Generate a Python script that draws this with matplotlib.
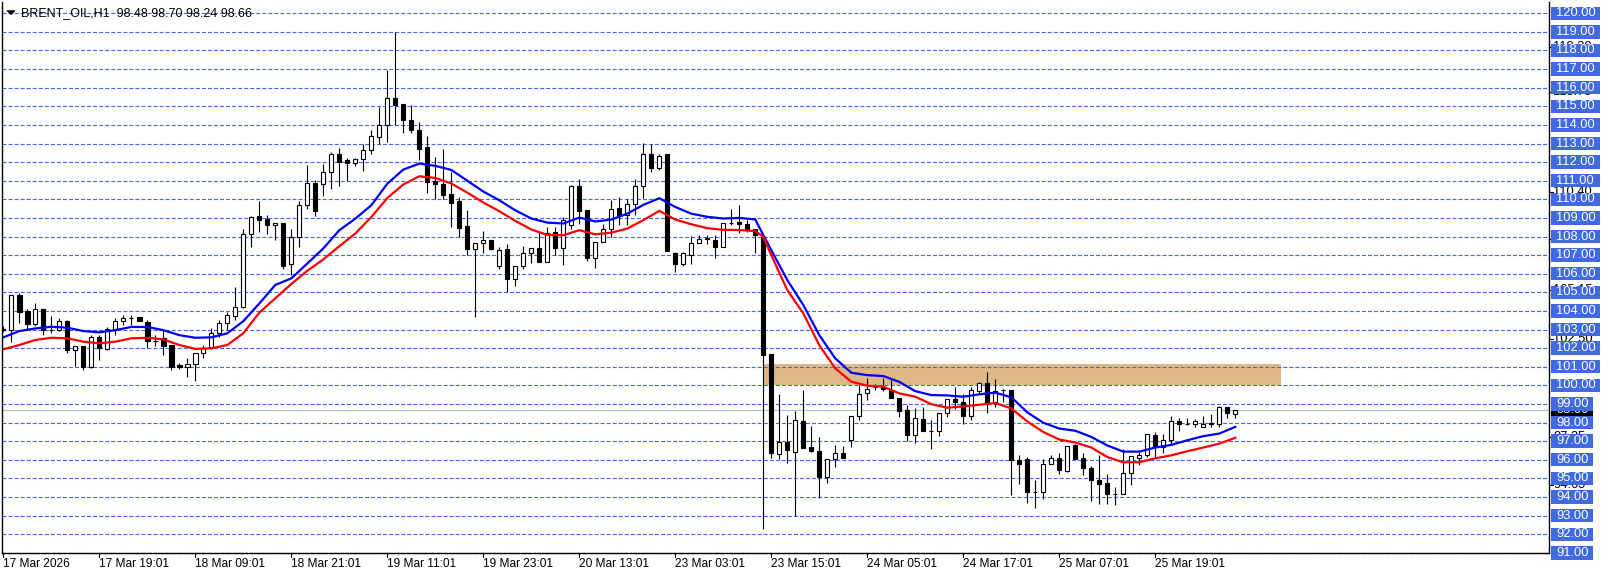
import matplotlib
matplotlib.use('Agg')
import matplotlib.pyplot as plt
import matplotlib.transforms as mtransforms
from matplotlib.patches import Rectangle, Polygon
from matplotlib.lines import Line2D
import numpy as np

plt.rcParams['font.family'] = ['Liberation Sans', 'DejaVu Sans']
plt.rcParams['lines.scale_dashes'] = False

# ---------------- data ----------------
symbol_title = "BRENT_OIL,H1  98.48 98.70 98.24 98.66"
opens = [103.05, 102.97, 104.85, 104.00, 103.30, 104.08, 102.95, 102.96, 103.46, 101.90,
         102.12, 100.97, 102.58, 101.96, 103.01, 103.46, 103.60, 103.65, 103.39, 102.39,
         102.53, 102.17, 101.10, 100.97, 101.13, 101.72, 102.08, 102.80, 103.33, 103.74,
         104.23, 108.16, 109.10, 108.93, 108.64, 108.71, 106.50, 108.00, 109.68, 110.89,
         110.80, 111.46, 112.45, 112.10, 111.93, 112.18, 112.66, 113.36, 114.00, 115.45,
         115.12, 114.27, 113.75, 112.79, 110.96, 110.84, 110.27, 109.90, 108.54, 107.34,
         107.66, 107.80, 106.44, 107.35, 105.73, 106.44, 107.09, 107.40, 106.64, 108.25,
         107.40, 108.60, 110.70, 109.45, 106.87, 107.71, 108.43, 109.56, 109.18, 109.77,
         110.72, 112.46, 111.70, 112.42, 107.09, 106.50, 107.03, 107.66, 107.90, 107.80,
         107.44, 108.75, 108.80, 108.70, 108.38, 107.99, 101.68, 96.30, 96.93, 96.43,
         98.08, 96.70, 96.47, 95.09, 96.02, 96.38, 97.09, 98.35, 99.57, 99.90,
         99.93, 99.75, 99.33, 98.67, 97.33, 98.19, 97.56, 97.56, 98.49, 99.26,
         99.12, 98.35, 99.72, 100.11, 99.12, 99.75, 99.75, 96.01, 96.06, 94.27,
         94.27, 95.80, 96.12, 95.40, 96.78, 96.12, 95.58, 94.90, 94.77, 94.14,
         94.14, 95.31, 96.12, 96.24, 97.32, 96.69, 97.05, 98.08, 97.92, 97.92,
         97.74, 97.95, 97.95, 98.82, 98.48]
highs = [103.20, 104.85, 104.98, 104.12, 104.44, 104.08, 103.73, 103.60, 103.50, 102.10,
         102.12, 102.70, 102.70, 103.15, 103.60, 103.80, 103.78, 103.67, 103.50, 102.70,
         103.00, 102.17, 101.19, 101.45, 101.72, 102.17, 103.06, 103.50, 103.96, 105.30,
         108.43, 109.09, 109.90, 109.18, 108.75, 108.71, 108.39, 109.90, 111.82, 111.05,
         111.90, 112.57, 112.77, 112.20, 112.21, 112.98, 113.70, 114.98, 116.95, 119.00,
         115.12, 115.07, 114.18, 113.43, 112.30, 112.71, 111.46, 110.13, 109.41, 107.66,
         108.29, 107.80, 107.44, 107.62, 106.44, 107.50, 107.40, 108.20, 108.52, 108.52,
         109.05, 110.78, 111.10, 109.45, 107.71, 108.70, 109.99, 110.13, 110.00, 111.08,
         113.03, 113.00, 112.46, 112.42, 107.18, 107.18, 108.02, 108.07, 108.07, 108.07,
         108.75, 109.47, 109.68, 108.91, 108.38, 107.99, 101.68, 99.51, 98.40, 98.62,
         99.75, 97.81, 97.20, 96.02, 96.79, 96.73, 98.35, 100.01, 100.37, 100.10,
         100.37, 100.28, 99.33, 98.97, 98.80, 98.85, 98.13, 98.49, 99.26, 99.89,
         99.53, 99.93, 100.20, 100.73, 100.33, 99.79, 99.75, 96.24, 96.15, 94.90,
         96.06, 96.24, 96.37, 96.73, 96.87, 96.37, 95.65, 96.24, 95.26, 94.54,
         96.60, 96.19, 96.42, 97.41, 97.50, 97.36, 98.35, 98.22, 98.22, 98.17,
         98.35, 98.46, 98.89, 98.82, 98.70]
lows = [102.88, 102.35, 103.37, 102.97, 103.19, 102.70, 102.80, 102.90, 101.72, 101.02,
        100.83, 100.92, 101.36, 101.90, 102.70, 103.24, 103.24, 103.44, 101.99, 102.12,
        101.63, 100.80, 100.86, 100.47, 100.26, 101.45, 101.96, 102.58, 103.00, 103.50,
        104.14, 107.45, 108.25, 108.16, 107.84, 106.23, 105.93, 107.45, 109.50, 109.10,
        110.20, 110.57, 110.70, 111.00, 111.79, 111.52, 112.41, 112.95, 113.07, 114.00,
        113.55, 113.55, 112.09, 110.36, 110.00, 110.00, 108.52, 108.00, 107.00, 103.70,
        107.10, 107.27, 106.23, 105.00, 105.35, 106.26, 106.60, 106.64, 106.64, 107.00,
        106.48, 108.40, 108.70, 106.70, 106.33, 107.71, 107.98, 108.60, 108.60, 109.18,
        110.08, 111.47, 111.56, 107.23, 106.10, 106.40, 106.55, 107.66, 107.62, 106.82,
        107.44, 108.60, 108.20, 108.25, 107.13, 92.27, 96.07, 96.02, 95.84, 92.97,
        96.61, 96.43, 93.92, 94.76, 95.60, 96.07, 96.70, 98.13, 99.21, 99.75,
        99.71, 99.33, 98.28, 97.02, 96.88, 97.56, 96.56, 97.27, 98.31, 98.71,
        97.95, 98.13, 99.57, 98.49, 98.85, 99.12, 94.09, 94.72, 93.67, 93.42,
        93.90, 95.76, 95.25, 95.35, 96.06, 95.17, 93.76, 93.64, 93.64, 93.55,
        94.14, 94.63, 95.70, 96.15, 96.15, 96.37, 96.87, 97.54, 97.88, 97.74,
        97.74, 97.77, 97.74, 98.22, 98.24]
closes = [102.98, 104.85, 103.92, 103.30, 104.10, 102.96, 102.96, 103.46, 101.90, 102.10,
          100.97, 102.58, 101.99, 103.01, 103.46, 103.64, 103.62, 103.46, 102.39, 102.40,
          102.13, 101.00, 100.97, 101.13, 101.72, 101.99, 102.80, 103.33, 103.78, 104.19,
          108.16, 109.05, 108.88, 108.64, 108.75, 106.43, 108.00, 109.68, 110.89, 109.38,
          111.46, 112.45, 112.00, 111.93, 112.18, 112.66, 113.39, 114.00, 115.45, 115.07,
          114.27, 113.73, 112.71, 110.93, 110.84, 110.21, 109.80, 108.46, 107.34, 107.66,
          107.79, 107.32, 107.30, 105.73, 106.44, 107.09, 107.40, 106.64, 108.20, 107.40,
          108.91, 110.70, 109.38, 106.87, 107.71, 108.43, 109.50, 109.18, 109.77, 110.72,
          112.46, 111.70, 112.35, 107.23, 106.50, 107.09, 107.66, 107.86, 107.89, 107.44,
          108.75, 108.73, 108.70, 108.43, 108.07, 101.63, 96.34, 96.93, 96.52, 98.13,
          96.61, 96.48, 95.09, 96.02, 96.34, 96.07, 98.35, 99.51, 99.80, 99.89,
          99.78, 99.33, 98.62, 97.33, 98.22, 97.56, 97.57, 98.49, 99.26, 99.12,
          98.35, 99.75, 100.11, 99.12, 99.72, 99.76, 96.01, 95.80, 94.27, 94.28,
          95.80, 96.12, 95.44, 96.73, 96.06, 95.58, 94.90, 94.68, 94.14, 94.15,
          95.31, 96.19, 96.24, 97.38, 96.69, 97.05, 98.08, 97.95, 97.93, 98.08,
          97.95, 97.96, 98.82, 98.49, 98.66]

ma_bars = list(range(0, 95, 2)) + [95] + list(range(96, 155, 2))
ma_blue = [102.58, 102.92, 103.06, 103.15, 103.10, 102.92, 102.85, 102.97, 103.14, 103.14,
           102.97, 102.70, 102.56, 102.58, 102.80, 103.45, 104.40, 105.40, 105.75, 106.55,
           107.36, 108.34, 108.96, 109.68, 110.84, 111.60, 111.92, 111.80, 111.58, 111.00,
           110.42, 109.95, 109.41, 108.97, 108.75, 108.70, 109.02, 108.81, 108.91, 109.23,
           109.70, 110.06, 109.59, 109.23, 109.06, 108.97, 109.00, 108.92, 108.08,
           107.27, 105.66, 104.32, 102.70, 101.45, 100.68, 100.55, 100.50, 100.19, 99.69,
           99.48, 99.46, 99.39, 99.52, 99.61, 99.36, 98.55, 97.99, 97.68, 97.56,
           97.23, 96.77, 96.44, 96.44, 96.66, 96.80, 97.05, 97.27, 97.41, 97.77]
ma_red = [101.94, 102.17, 102.44, 102.56, 102.53, 102.35, 102.26, 102.35, 102.53, 102.56,
          102.47, 102.17, 101.96, 101.99, 102.17, 102.80, 103.91, 104.68, 105.45, 106.16,
          106.77, 107.48, 108.16, 109.05, 110.07, 110.80, 111.24, 111.15, 110.85, 110.36,
          109.83, 109.36, 108.84, 108.38, 108.09, 108.07, 108.34, 108.12, 108.21, 108.43,
          108.88, 109.38, 108.91, 108.66, 108.45, 108.36, 108.35, 108.29, 107.99,
          107.00, 105.12, 103.87, 102.16, 100.91, 100.20, 99.98, 99.93, 99.57, 99.39,
          98.99, 98.80, 98.87, 98.96, 99.05, 98.76, 98.06, 97.49, 97.09, 96.93,
          96.66, 96.15, 95.87, 95.87, 96.08, 96.24, 96.46, 96.66, 96.87, 97.18]

tick_bars = [0, 12, 24, 36, 48, 60, 72, 84, 96, 108, 120, 132, 144]
tick_labels = ["17 Mar 2026", "17 Mar 19:01", "18 Mar 09:01", "18 Mar 21:01", "19 Mar 11:01",
               "19 Mar 23:01", "20 Mar 13:01", "23 Mar 03:01", "23 Mar 15:01", "24 Mar 05:01",
               "24 Mar 17:01", "25 Mar 07:01", "25 Mar 19:01"]
price_levels = list(range(91, 121))
hidden_levels = [118.20, 115.75, 110.40, 107.85, 105.15, 102.50, 97.25, 94.65]
bid_price = 98.66
zone_bars = (95, 159.7)
zone_prices = (100.03, 101.16)

# ---------------- layout ----------------
W, H = 1606, 577
fig = plt.figure(figsize=(W / 100, H / 100), dpi=100)
fig.patch.set_facecolor('white')
Lp, Rp, Tp, Bp = 2, 1549, 2, 553
ax = fig.add_axes([Lp / W, 1 - Bp / H, (Rp - Lp) / W, (Bp - Tp) / H])
ax.set_facecolor('white')

x0px, bar_px = 3.3, 8.0
ax.set_xlim((Lp - x0px) / bar_px, (Rp - x0px) / bar_px)
scale = (553.5 - 13.3) / 29.0
ax.set_ylim(90.99, 120 + (13.3 - Tp) / scale)

for s in ['top']:
    ax.spines[s].set_visible(False)
for s in ['left', 'right', 'bottom']:
    ax.spines[s].set_color('black')
    ax.spines[s].set_linewidth(1.0)
    ax.spines[s].set_zorder(6)
ax.set_xticks([])
ax.set_yticks([])

grid_color = '#4169E1'

# zone rectangle
ax.add_patch(Rectangle((zone_bars[0], zone_prices[0]), zone_bars[1] - zone_bars[0],
                       zone_prices[1] - zone_prices[0], facecolor='#DEB887',
                       edgecolor='none', zorder=1))
# bid line
ax.axhline(bid_price, color='#C0C0C0', lw=1.0, zorder=1.5)

# grid lines
for p in price_levels:
    ax.axhline(p, color=grid_color, lw=0.8, ls=(0, (2.9, 1.45)), zorder=2, clip_on=False)

# candles
o = np.array(opens); h = np.array(highs); l = np.array(lows); c = np.array(closes)
xb = np.arange(len(o))
up = c >= o
ax.vlines(xb, l, h, color='black', lw=0.8, zorder=3)
body_bottom = np.minimum(o, c)
body_h = np.maximum(np.abs(c - o), 0.005)
ax.bar(xb, body_h, bottom=body_bottom, width=0.55,
       color=['white' if u else 'black' for u in up],
       edgecolor='black', linewidth=0.8, zorder=4)

# moving averages
ax.plot(ma_bars, ma_blue, color='#0000FF', lw=1.6, zorder=5)
ax.plot(ma_bars, ma_red, color='#FF0000', lw=1.6, zorder=5)

# ---------------- right price scale ----------------
trans = mtransforms.blended_transform_factory(fig.transFigure, ax.transData)
box_h = 13.4 / scale
fs_price = 9.3
for p in hidden_levels:
    ax.text(1553 / W, p, f"{p:.2f}", transform=trans, ha='left', va='center',
            fontsize=fs_price, color='black', clip_on=False, zorder=7)
    ax.add_line(Line2D([Rp / W, (Rp + 4) / W], [p, p], transform=trans, color='black',
                       lw=0.8, clip_on=False, zorder=7))
# bid label
bw = 42
ax.add_patch(Rectangle((1551 / W, bid_price - box_h / 2), bw / W, box_h, transform=trans,
                       facecolor='black', edgecolor='none', clip_on=False, zorder=8))
ax.text(1556 / W, bid_price, f"{bid_price:.2f}", transform=trans, ha='left', va='center',
        fontsize=fs_price, color='white', clip_on=False, zorder=9)
for p in price_levels:
    label = f"{p:.2f}"
    bw = 49 if len(label) == 6 else 42
    ax.add_patch(Rectangle((1551 / W, p - box_h / 2), bw / W, box_h, transform=trans,
                           facecolor=grid_color, edgecolor='none', clip_on=False, zorder=10))
    ax.text(1556 / W, p, label, transform=trans, ha='left', va='center',
            fontsize=fs_price, color='white', clip_on=False, zorder=11)

# ---------------- time axis ----------------
for b, lab in zip(tick_bars, tick_labels):
    px = x0px + bar_px * b
    fig.add_artist(Line2D([px / W, px / W], [1 - 553 / H, 1 - 557 / H],
                          transform=fig.transFigure, color='black', lw=0.8))
    fig.text((px - 0.5) / W, 1 - 564 / H, lab, ha='left', va='center',
             fontsize=8.6, color='black')

# ---------------- title ----------------
fig.add_artist(Polygon([[7 / W, 1 - 10.7 / H], [15 / W, 1 - 10.7 / H], [11 / W, 1 - 14.7 / H]],
                       closed=True, transform=fig.transFigure, facecolor='black',
                       edgecolor='black', lw=0.5))
fig.text(21 / W, 1 - 13 / H, symbol_title, ha='left', va='center', fontsize=9, color='black')

fig.savefig('out.png', dpi=100, facecolor='white')
